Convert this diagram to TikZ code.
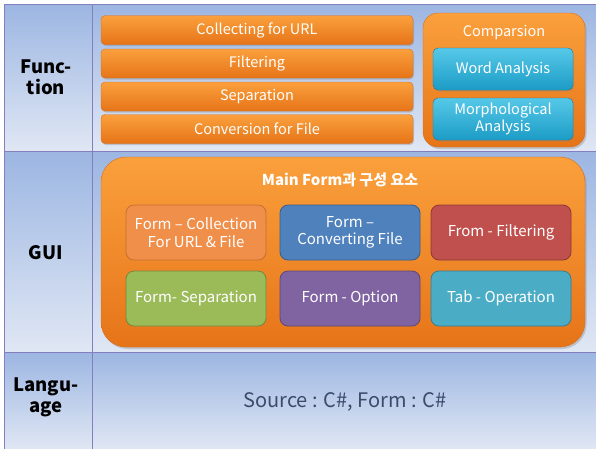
\documentclass[tikz,border=0pt]{standalone}
\usepackage{fontspec}
\setmainfont{Noto Sans CJK KR}
\usetikzlibrary{shadows}

\definecolor{gridline}{RGB}{132,126,190}
\definecolor{celltop}{RGB}{156,182,226}
\definecolor{cellbot}{RGB}{224,231,244}
\definecolor{orgtop}{RGB}{250,160,60}
\definecolor{orgbot}{RGB}{230,116,24}
\definecolor{orgline}{RGB}{214,110,30}
\definecolor{tealtop}{RGB}{86,200,232}
\definecolor{tealbot}{RGB}{28,156,198}
\definecolor{tealline}{RGB}{30,120,150}
\definecolor{srctext}{RGB}{58,76,108}

\tikzset{
  cell/.style={draw=gridline, top color=celltop, bottom color=cellbot},
  rowlabel/.style={font=\fontsize{18.5}{21}\selectfont\bfseries, align=center},
  funcbar/.style={rounded corners=4pt, draw=orgline, top color=orgtop, bottom color=orgbot,
    text=white, minimum width=312pt, minimum height=29pt, inner sep=0pt,
    font=\fontsize{14.5}{17}\selectfont,
    drop shadow={opacity=0.35, shadow xshift=1pt, shadow yshift=-1.5pt}},
  groupbox/.style={draw=orgline, top color=orgtop, bottom color=orgbot,
    drop shadow={opacity=0.35, shadow xshift=1.5pt, shadow yshift=-2pt}},
  analysis/.style={rounded corners=5pt, draw=tealline, top color=tealtop, bottom color=tealbot,
    text=white, minimum width=140pt, minimum height=42pt, inner sep=0pt, align=center,
    font=\fontsize{14.5}{17}\selectfont,
    drop shadow={opacity=0.35, shadow xshift=1pt, shadow yshift=-1.5pt}},
  formbox/.style={rounded corners=8pt, line width=0.8pt, text=white,
    minimum width=140pt, minimum height=55pt, inner sep=0pt, align=center,
    font=\fontsize{15}{17.5}\selectfont}
}

\begin{document}
\begin{tikzpicture}[x=1pt, y=-1pt]
\useasboundingbox (0,0) rectangle (596,448);

% table cells
\path[cell] (4,4) rectangle (92,151);
\path[cell] (92,4) rectangle (597,151);
\path[cell] (4,151) rectangle (92,352);
\path[cell] (92,151) rectangle (597,352);
\path[cell] (4,352) rectangle (92,449);
\path[cell] (92,352) rectangle (597,449);

% row labels
\node[rowlabel] (lfunc) at (46,77) {Func-\\tion};
\node[rowlabel] (lgui) at (46,253) {GUI};
\node[rowlabel] (llang) at (46,397) {Langu-\\age};

% function row
\node[funcbar] (collect) at (257,30) {Collecting for URL};
\node[funcbar] (filter) at (257,63.5) {Filtering};
\node[funcbar] (separate) at (257,96.5) {Separation};
\node[funcbar] (convert) at (257,129) {Conversion for File};

\node[groupbox, rounded corners=15pt, minimum width=162pt, minimum height=134pt] (compare) at (504,80) {};
\node[text=white, font=\fontsize{14.5}{17}\selectfont] (comptitle) at (504,33) {Comparsion};
\node[analysis] (word) at (503,69) {Word Analysis};
\node[analysis] (morph) at (503,119) {Morphological\\Analysis};

% GUI row
\node[groupbox, rounded corners=25pt, minimum width=484pt, minimum height=190pt] (mainform) at (343,252) {};
\node[text=white, font=\fontsize{15}{17}\selectfont\bfseries] (maintitle) at (340,180) {Main Form과 구성 요소};

\node[formbox, fill={rgb,255:red,240;green,143;blue,74}, draw={rgb,255:red,200;green,110;blue,50}] (fcollect) at (196,232.5) {Form – Collection\\For URL \& File};
\node[formbox, fill={rgb,255:red,79;green,129;blue,189}, draw={rgb,255:red,56;green,93;blue,138}] (fconvert) at (350,232.5) {Form –\\Converting File};
\node[formbox, fill={rgb,255:red,192;green,80;blue,77}, draw={rgb,255:red,140;green,56;blue,54}] (ffilter) at (501,232.5) {From - Filtering};
\node[formbox, fill={rgb,255:red,155;green,187;blue,89}, draw={rgb,255:red,113;green,137;blue,63}] (fseparate) at (196,298.5) {Form- Separation};
\node[formbox, fill={rgb,255:red,128;green,100;blue,162}, draw={rgb,255:red,92;green,71;blue,118}] (foption) at (350,298.5) {Form - Option};
\node[formbox, fill={rgb,255:red,75;green,172;blue,198}, draw={rgb,255:red,53;green,126;blue,146}] (ftab) at (501,298.5) {Tab - Operation};

% language row
\node[text=srctext, font=\fontsize{20}{24}\selectfont] (source) at (345,402) {Source : C\#, Form : C\#};
\end{tikzpicture}
\end{document}
